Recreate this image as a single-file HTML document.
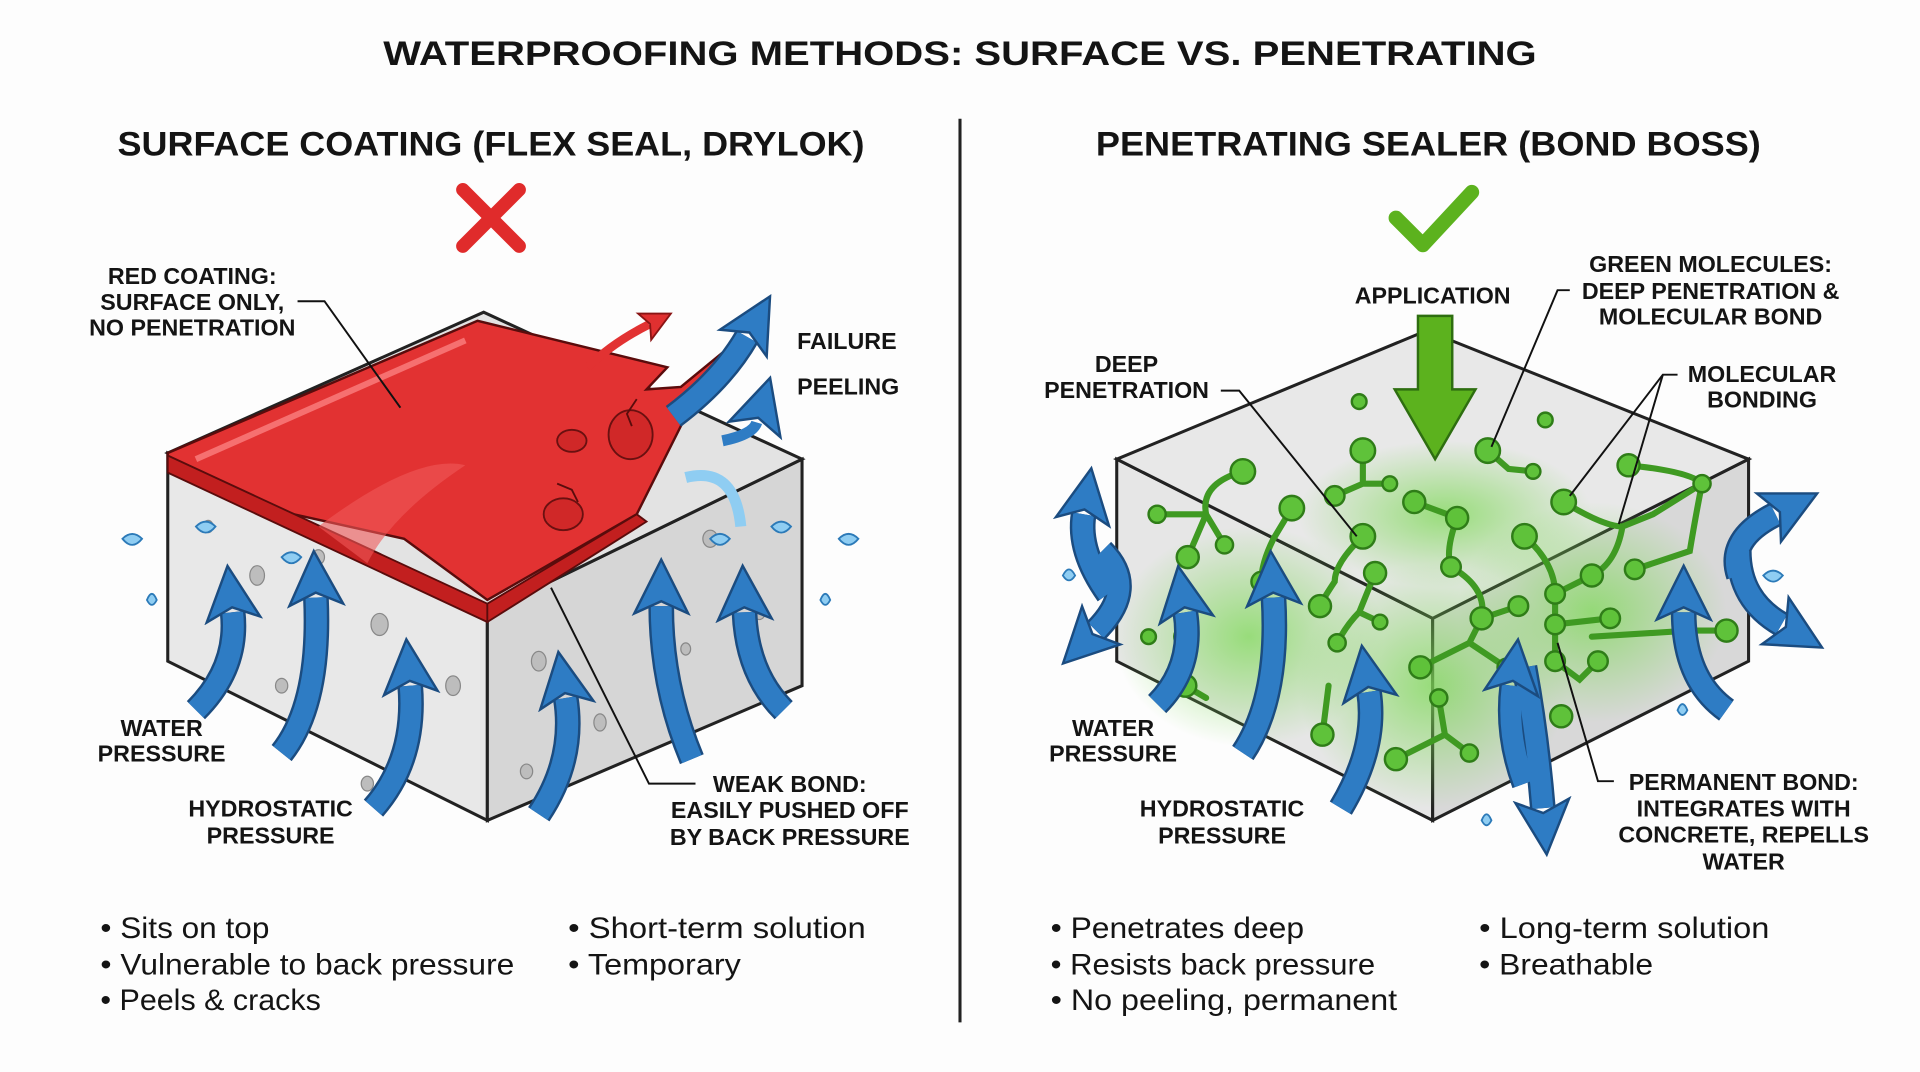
<!DOCTYPE html>
<html><head><meta charset="utf-8"><style>
html,body{margin:0;padding:0;background:#fdfdfd;}
svg{display:block;}
text{font-family:"Liberation Sans",sans-serif;fill:#141414;}
.h{font-weight:bold;font-size:28px;}
.l{font-weight:bold;font-size:19px;}
.b{font-size:24px;}
.ld{stroke:#111;stroke-width:1.6;fill:none;}
.ar{fill:none;stroke:#2e7cc4;stroke-width:17;}
.ao{fill:none;stroke:#1b4c80;stroke-width:21;}
.m{fill:#5fc23a;stroke:#2f7d18;stroke-width:2;}
.ml{stroke:#3f9a22;stroke-width:5;fill:none;stroke-linecap:round;}
</style></head><body>
<svg width="1920" height="1072" viewBox="0 0 1568 875.5" preserveAspectRatio="none">
<defs>
<marker id="ah" markerUnits="userSpaceOnUse" markerWidth="50" markerHeight="50" refX="8" refY="25" orient="auto">
<polygon points="2,3 46,25 2,47 12,25" fill="#2e7cc4" stroke="#1b4c80" stroke-width="2"/>
</marker>
<marker id="ahr" markerUnits="userSpaceOnUse" markerWidth="30" markerHeight="30" refX="6" refY="15" orient="auto">
<polygon points="2,3 26,15 2,27 7,15" fill="#e03030" stroke="#8a1414" stroke-width="1.5"/>
</marker>
<radialGradient id="glow" cx="50%" cy="50%" r="50%">
<stop offset="0" stop-color="#7ed957" stop-opacity="0.75"/><stop offset="1" stop-color="#7ed957" stop-opacity="0"/>
</radialGradient>
</defs>
<rect width="1568" height="876" fill="#fdfdfd"/>
<text x="313" y="53" class="h" textLength="942" lengthAdjust="spacingAndGlyphs">WATERPROOFING METHODS: SURFACE VS. PENETRATING</text>
<line x1="784" y1="97" x2="784" y2="835" stroke="#222" stroke-width="2.5"/>
<text x="96" y="127" class="h" textLength="610" lengthAdjust="spacingAndGlyphs">SURFACE COATING (FLEX SEAL, DRYLOK)</text>
<text x="895" y="127" class="h" textLength="543" lengthAdjust="spacingAndGlyphs">PENETRATING SEALER (BOND BOSS)</text>
<g stroke="#e02b2b" stroke-width="11" stroke-linecap="round"><line x1="378" y1="155" x2="424" y2="201"/><line x1="424" y1="155" x2="378" y2="201"/></g>
<polyline points="1140,178 1162,200 1202,157" fill="none" stroke="#5cb21e" stroke-width="12" stroke-linecap="round" stroke-linejoin="round"/>

<!-- LEFT BOX -->
<polygon points="137,370 398,500 398,670 137,540" fill="#e8e8e8" stroke="#222" stroke-width="2.5"/>
<polygon points="398,500 655,375 655,560 398,670" fill="#d6d6d6" stroke="#222" stroke-width="2.5"/>
<polygon points="137,370 395,255 655,375 398,500" fill="#e3e3e3" stroke="#222" stroke-width="2.5"/>
<g fill="#bdbdbd" stroke="#888" stroke-width="1">
<ellipse cx="210" cy="470" rx="6" ry="8"/><ellipse cx="310" cy="510" rx="7" ry="9"/><ellipse cx="260" cy="455" rx="5" ry="6"/><ellipse cx="370" cy="560" rx="6" ry="8"/><ellipse cx="170" cy="430" rx="4" ry="5"/><ellipse cx="230" cy="560" rx="5" ry="6"/><ellipse cx="300" cy="640" rx="5" ry="6"/>
<ellipse cx="440" cy="540" rx="6" ry="8"/><ellipse cx="490" cy="590" rx="5" ry="7"/><ellipse cx="580" cy="440" rx="6" ry="7"/><ellipse cx="620" cy="500" rx="5" ry="6"/><ellipse cx="560" cy="530" rx="4" ry="5"/><ellipse cx="430" cy="630" rx="5" ry="6"/>
</g>
<polygon points="137,370 390,262 545,300 528,318 556,316 590,288 560,340 520,420 398,490 330,440 240,420 137,380" fill="#e23232" stroke="#5a0c0c" stroke-width="2"/>
<polygon points="137,372 398,493 398,508 137,386" fill="#c21f1f" stroke="#5a0c0c" stroke-width="1.5"/>
<polygon points="398,493 520,420 528,426 398,508" fill="#c21f1f" stroke="#5a0c0c" stroke-width="1.5"/>
<path d="M160 375 L380 278" stroke="#ff8a8a" stroke-width="5" fill="none" opacity="0.7"/>
<path d="M260 430 Q340 370 380 380 Q320 420 300 460" fill="#f05858" opacity="0.6"/>
<ellipse cx="515" cy="355" rx="18" ry="20" fill="#d02828" stroke="#6a1010" stroke-width="1.5"/>
<ellipse cx="467" cy="360" rx="12" ry="9" fill="#d02828" stroke="#6a1010" stroke-width="1.5"/>
<ellipse cx="460" cy="420" rx="16" ry="13" fill="#d02828" stroke="#6a1010" stroke-width="1.5"/>
<path d="M520 326 l-8 12 l4 10 M455 395 l12 5 l5 10" stroke="#5a0c0c" stroke-width="1.5" fill="none"/>
<path d="M480 300 Q500 280 530 265" style="stroke:#e23232;stroke-width:7;fill:none" marker-end="url(#ahr)"/>
<g fill="#8fcdf2" stroke="#2c7ab8" stroke-width="1.5">
<path d="M100 440 q8 -8 16 0 q-8 10 -16 0z"/><path d="M160 430 q8 -8 16 0 q-8 10 -16 0z"/><path d="M120 490 q4 -10 8 0 q-4 8 -8 0z"/><path d="M230 455 q8 -8 16 0 q-8 10 -16 0z"/>
<path d="M580 440 q8 -8 16 0 q-8 10 -16 0z"/><path d="M630 430 q8 -8 16 0 q-8 10 -16 0z"/><path d="M685 440 q8 -8 16 0 q-8 10 -16 0z"/><path d="M670 490 q4 -10 8 0 q-4 8 -8 0z"/>
</g>
<path d="M560 390 Q600 380 605 430" stroke="#8fcdf2" stroke-width="9" fill="none"/>
<g class="ao">
<path d="M160 580 Q195 545 190 500"/><path d="M230 615 Q262 575 258 488"/><path d="M305 660 Q340 620 335 560"/><path d="M440 665 Q470 620 462 570"/><path d="M565 620 Q540 560 540 495"/><path d="M640 580 Q610 550 608 500"/><path d="M550 340 Q590 310 610 275"/>
</g>
<g marker-end="url(#ah)">
<path class="ar" d="M160 580 Q195 545 190 500"/>
<path class="ar" d="M230 615 Q262 575 258 488"/>
<path class="ar" d="M305 660 Q340 620 335 560"/>
<path class="ar" d="M440 665 Q470 620 462 570"/>
<path class="ar" d="M565 620 Q540 560 540 495"/>
<path class="ar" d="M640 580 Q610 550 608 500"/>
<path class="ar" d="M550 340 Q590 310 610 275"/>
<path class="ar" d="M590 360 Q615 355 618 345" style="stroke-width:9"/>
</g>
<text class="l" text-anchor="middle"><tspan x="157" y="232">RED COATING:</tspan><tspan x="157" y="253">SURFACE ONLY,</tspan><tspan x="157" y="274">NO PENETRATION</tspan></text>
<path class="ld" d="M243 246 L265 246 L327 333"/>
<text class="l" x="651" y="285">FAILURE</text>
<text class="l" x="651" y="322">PEELING</text>
<text class="l" text-anchor="middle"><tspan x="132" y="601">WATER</tspan><tspan x="132" y="622">PRESSURE</tspan></text>
<text class="l" text-anchor="middle"><tspan x="221" y="667">HYDROSTATIC</tspan><tspan x="221" y="689">PRESSURE</tspan></text>
<text class="l" text-anchor="middle"><tspan x="645" y="647">WEAK BOND:</tspan><tspan x="645" y="668">EASILY PUSHED OFF</tspan><tspan x="645" y="690">BY BACK PRESSURE</tspan></text>
<path class="ld" d="M450 480 L530 640 L568 640"/>

<!-- RIGHT BOX -->
<polygon points="912,375 1170,505 1170,670 912,540" fill="#e6e6e6" stroke="#222" stroke-width="2.5"/>
<polygon points="1170,505 1428,375 1428,540 1170,670" fill="#d8d8d8" stroke="#222" stroke-width="2.5"/>
<polygon points="912,375 1165,270 1428,375 1170,505" fill="#e8e8e8" stroke="#222" stroke-width="2.5"/>
<ellipse cx="1020" cy="520" rx="110" ry="90" fill="url(#glow)"/>
<ellipse cx="1170" cy="560" rx="110" ry="100" fill="url(#glow)"/>
<ellipse cx="1300" cy="500" rx="110" ry="90" fill="url(#glow)"/>
<ellipse cx="1180" cy="420" rx="120" ry="60" fill="url(#glow)"/>
<g class="ml">
<path d="M1015 385 Q980 395 985 420 L970 455 M985 420 L1000 445 M985 420 L945 420"/>
<path d="M1055 415 L1040 440 Q1030 460 1030 475"/>
<path d="M1113 368 L1113 395 L1090 405 M1113 395 L1135 395"/>
<path d="M1113 438 Q1090 460 1090 475 Q1080 490 1078 495"/>
<path d="M1155 410 L1190 423 Q1180 450 1185 463 Q1215 480 1210 505 L1200 525 L1160 545 M1200 525 L1230 545 M1210 505 L1240 495"/>
<path d="M1123 468 L1110 500 Q1100 510 1092 525 M1110 500 L1127 508"/>
<path d="M1215 368 L1232 383 L1252 385"/>
<path d="M1277 410 Q1310 430 1325 430 Q1320 460 1300 470 Q1280 480 1270 485 L1270 510 L1270 540 L1290 555 L1305 540 M1270 510 L1315 505 M1325 430 L1350 420 L1390 395 Q1385 420 1380 450 L1335 465"/>
<path d="M1245 438 Q1270 460 1270 485"/>
<path d="M1330 380 Q1380 385 1390 395"/>
<path d="M968 520 L968 560 L985 570 M968 560 L968 535"/>
<path d="M1080 600 L1085 560 M1140 620 L1180 600 L1175 570 M1180 600 L1200 615"/>
<path d="M1300 520 L1380 515 L1410 515"/>
</g>
<g class="m">
<circle cx="1015" cy="385" r="10"/><circle cx="970" cy="455" r="9"/><circle cx="1000" cy="445" r="7"/><circle cx="945" cy="420" r="7"/>
<circle cx="1055" cy="415" r="10"/><circle cx="1030" cy="475" r="8"/><circle cx="1113" cy="368" r="10"/><circle cx="1090" cy="405" r="8"/><circle cx="1135" cy="395" r="6"/>
<circle cx="1113" cy="438" r="10"/><circle cx="1078" cy="495" r="9"/><circle cx="1155" cy="410" r="9"/><circle cx="1190" cy="423" r="9"/><circle cx="1185" cy="463" r="8"/><circle cx="1210" cy="505" r="9"/><circle cx="1160" cy="545" r="9"/><circle cx="1230" cy="545" r="7"/><circle cx="1240" cy="495" r="8"/>
<circle cx="1123" cy="468" r="9"/><circle cx="1092" cy="525" r="7"/><circle cx="1127" cy="508" r="6"/>
<circle cx="1215" cy="368" r="10"/><circle cx="1252" cy="385" r="6"/><circle cx="1110" cy="328" r="6"/><circle cx="1262" cy="343" r="6"/>
<circle cx="1277" cy="410" r="10"/><circle cx="1300" cy="470" r="9"/><circle cx="1270" cy="485" r="8"/><circle cx="1270" cy="510" r="8"/><circle cx="1270" cy="540" r="8"/><circle cx="1305" cy="540" r="8"/><circle cx="1315" cy="505" r="8"/><circle cx="1390" cy="395" r="7"/><circle cx="1335" cy="465" r="8"/>
<circle cx="1245" cy="438" r="10"/><circle cx="1330" cy="380" r="9"/><circle cx="968" cy="520" r="9"/><circle cx="968" cy="560" r="9"/><circle cx="1080" cy="600" r="9"/><circle cx="1140" cy="620" r="9"/><circle cx="1175" cy="570" r="7"/><circle cx="1200" cy="615" r="7"/><circle cx="1410" cy="515" r="9"/><circle cx="1275" cy="585" r="9"/><circle cx="938" cy="520" r="6"/>
</g>
<polygon points="1158,258 1186,258 1186,318 1205,318 1172,375 1139,318 1158,318" fill="#5cb21e" stroke="#2e6e10" stroke-width="2"/>
<g class="ao">
<path d="M905 485 Q880 450 885 420"/><path d="M900 450 Q930 480 895 515"/><path d="M945 575 Q975 545 968 500"/><path d="M1015 615 Q1045 570 1040 488"/><path d="M1095 660 Q1125 610 1118 565"/><path d="M1245 545 Q1255 600 1260 660"/><path d="M1245 640 Q1230 600 1235 560"/><path d="M1410 580 Q1375 555 1375 500"/><path d="M1420 470 Q1410 440 1450 420"/><path d="M1420 450 Q1420 490 1455 510"/>
</g>
<g marker-end="url(#ah)">
<path class="ar" d="M905 485 Q880 450 885 420"/>
<path class="ar" d="M900 450 Q930 480 895 515"/>
<path class="ar" d="M945 575 Q975 545 968 500"/>
<path class="ar" d="M1015 615 Q1045 570 1040 488"/>
<path class="ar" d="M1095 660 Q1125 610 1118 565"/>
<path class="ar" d="M1245 545 Q1255 600 1260 660"/>
<path class="ar" d="M1245 640 Q1230 600 1235 560"/>
<path class="ar" d="M1410 580 Q1375 555 1375 500"/>
<path class="ar" d="M1420 470 Q1410 440 1450 420"/>
<path class="ar" d="M1420 450 Q1420 490 1455 510"/>
</g>
<g fill="#8fcdf2" stroke="#2c7ab8" stroke-width="1.5">
<path d="M868 470 q5 -10 10 0 q-5 8 -10 0z"/><path d="M1440 470 q8 -8 16 0 q-8 10 -16 0z"/><path d="M1370 580 q4 -10 8 0 q-4 8 -8 0z"/><path d="M1210 670 q4 -10 8 0 q-4 8 -8 0z"/>
</g>
<text class="l" text-anchor="middle" x="1170" y="248">APPLICATION</text>
<text class="l" text-anchor="middle"><tspan x="1397" y="222">GREEN MOLECULES:</tspan><tspan x="1397" y="244">DEEP PENETRATION &amp;</tspan><tspan x="1397" y="265">MOLECULAR BOND</tspan></text>
<path class="ld" d="M1282 237 L1272 237 L1218 365"/>
<text class="l" text-anchor="middle"><tspan x="920" y="304">DEEP</tspan><tspan x="920" y="325">PENETRATION</tspan></text>
<path class="ld" d="M997 319 L1012 319 L1108 438"/>
<text class="l" text-anchor="middle"><tspan x="1439" y="312">MOLECULAR</tspan><tspan x="1439" y="333">BONDING</tspan></text>
<path class="ld" d="M1370 306 L1358 306 L1282 405 M1358 306 L1322 428"/>
<text class="l" text-anchor="middle"><tspan x="909" y="601">WATER</tspan><tspan x="909" y="622">PRESSURE</tspan></text>
<text class="l" text-anchor="middle"><tspan x="998" y="667">HYDROSTATIC</tspan><tspan x="998" y="689">PRESSURE</tspan></text>
<text class="l" text-anchor="middle"><tspan x="1424" y="645">PERMANENT BOND:</tspan><tspan x="1424" y="667">INTEGRATES WITH</tspan><tspan x="1424" y="688">CONCRETE, REPELLS</tspan><tspan x="1424" y="710">WATER</tspan></text>
<path class="ld" d="M1272 525 L1305 638 L1318 638"/>

<g class="b">
<text x="82" y="766" class="b" textLength="138" lengthAdjust="spacingAndGlyphs">• Sits on top</text>
<text x="82" y="796" class="b" textLength="338" lengthAdjust="spacingAndGlyphs">• Vulnerable to back pressure</text>
<text x="82" y="825" class="b" textLength="180" lengthAdjust="spacingAndGlyphs">• Peels &amp; cracks</text>
<text x="464" y="766" class="b" textLength="243" lengthAdjust="spacingAndGlyphs">• Short-term solution</text>
<text x="464" y="796" class="b" textLength="141" lengthAdjust="spacingAndGlyphs">• Temporary</text>
<text x="858" y="766" class="b" textLength="207" lengthAdjust="spacingAndGlyphs">• Penetrates deep</text>
<text x="858" y="796" class="b" textLength="265" lengthAdjust="spacingAndGlyphs">• Resists back pressure</text>
<text x="858" y="825" class="b" textLength="283" lengthAdjust="spacingAndGlyphs">• No peeling, permanent</text>
<text x="1208" y="766" class="b" textLength="237" lengthAdjust="spacingAndGlyphs">• Long-term solution</text>
<text x="1208" y="796" class="b" textLength="142" lengthAdjust="spacingAndGlyphs">• Breathable</text>
</g>
</svg>
</body></html>
